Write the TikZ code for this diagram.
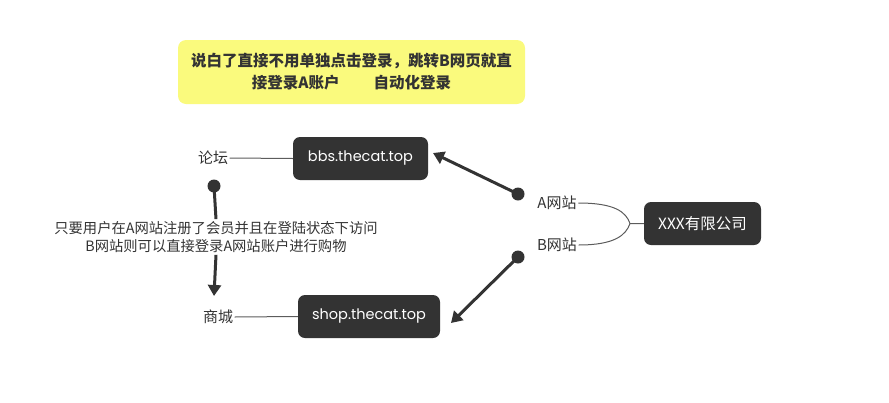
\documentclass[tikz,border=0pt]{standalone}
\usepackage{fontspec}
\newfontfamily\cjk{Noto Sans CJK SC}
\newfontfamily\pop{Poppins}
\definecolor{dark}{HTML}{333333}
\definecolor{note}{HTML}{FAFA7D}
\tikzset{
  site/.style={fill=dark,text=white,rounded corners=7pt,minimum height=43pt,inner xsep=9pt,font=\pop\fontsize{14.5}{16}\selectfont},
  lbl/.style={text=dark,inner sep=1.5pt,font=\cjk\fontsize{15}{16}\selectfont},
  thin/.style={draw=dark!80,line width=1pt},
  jump/.style={draw=dark,line width=3pt,-{Triangle[length=11pt,width=13pt]}},
  dot/.style={circle,fill=dark,inner sep=0pt,minimum size=13pt}
}
\usetikzlibrary{arrows.meta}
\begin{document}
\begin{tikzpicture}[x=1pt,y=-1pt]
	\useasboundingbox (0,0) rectangle (889,402);
	\node[fill=note,rounded corners=8pt,minimum width=347pt,minimum height=64pt,align=center,text=dark,font=\cjk\bfseries\fontsize{15.5}{22}\selectfont] (tip) at (351.5,72) {说白了直接不用单独点击登录，跳转B网页就直\\接登录A账户\hspace{2.2em}自动化登录};
	\node[site,minimum width=135pt] (bbs) at (360.5,158.5) {bbs.thecat.top};
	\node[site,minimum width=142pt] (shop) at (369,316.5) {shop.thecat.top};
	\node[site,minimum width=117pt,font=\cjk\fontsize{15.5}{16}\selectfont] (co) at (702.5,223.5) {XXX有限公司};
	\node[lbl] (lt) at (213,158) {论坛};
	\node[lbl] (sc) at (218,317) {商城};
	\node[lbl] (aw) at (557,203) {A网站};
	\node[lbl] (bw) at (557,245) {B网站};
	\coordinate (fork) at (630,223.5);
	\draw[thin] (lt.east)--(bbs.west) (sc.east)--(shop.west);
	\draw[thin] (aw.east)..controls (615,203) and (626,212)..(fork)--(co.west);
	\draw[thin] (bw.east)..controls (615,245) and (626,235)..(fork);
	% 登录跳转
	\node[dot] (da) at (518,194) {};
	\node[dot] (db) at (518,257) {};
	\node[dot] (dl) at (214,186) {};
	\coordinate (ta) at (433,153);
	\coordinate (tb) at (451,323);
	\coordinate (tl) at (214,296);
	\draw[jump] (da.center)--(ta);
	\draw[jump] (db.center)--(tb);
	\node[lbl,align=center,font=\cjk\fontsize{14.3}{18}\selectfont,inner sep=2pt] (why) at (216,237) {只要用户在A网站注册了会员并且在登陆状态下访问\\B网站则可以直接登录A网站账户进行购物};
	\draw[draw=dark,line width=3pt] (dl.center)--(why.north);
	\draw[jump] (why.south)--(tl);
\end{tikzpicture}
\end{document}
